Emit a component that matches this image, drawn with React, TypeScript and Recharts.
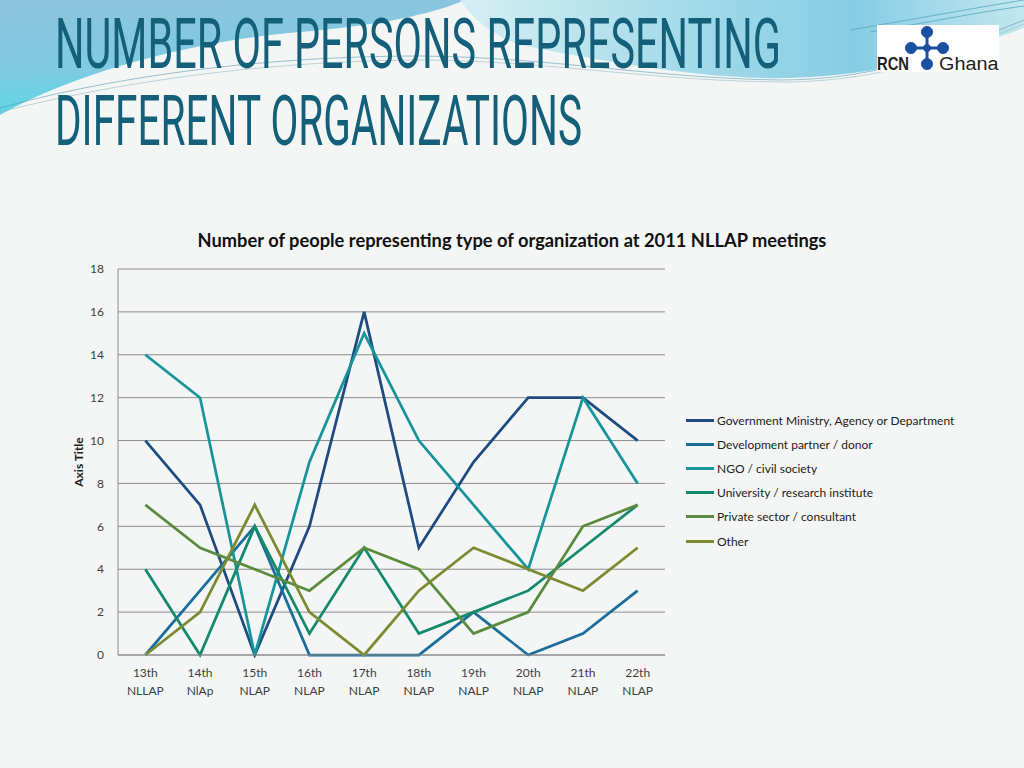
import { CartesianGrid, Line, LineChart, XAxis, YAxis } from "recharts";

const meetings = [
  "13th NLLAP",
  "14th NlAp",
  "15th NLAP",
  "16th NLAP",
  "17th NLAP",
  "18th NLAP",
  "19th NALP",
  "20th NLAP",
  "21th NLAP",
  "22th NLAP",
];
const government = [10, 7, 0, 6, 16, 5, 9, 12, 12, 10];
const developmentPartner = [0, 3, 6, 0, 0, 0, 2, 0, 1, 3];
const ngo = [14, 12, 0, 9, 15, 10, 7, 4, 12, 8];
const university = [4, 0, 6, 1, 5, 1, 2, 3, 5, 7];
const privateSector = [7, 5, 4, 3, 5, 4, 1, 2, 6, 7];
const other = [0, 2, 7, 2, 0, 3, 5, 4, 3, 5];
const yTicks = [0, 2, 4, 6, 8, 10, 12, 14, 16, 18];

const series = [
  { key: "government", name: "Government Ministry, Agency or Department", values: government, color: "#1E4C82" },
  { key: "development", name: "Development partner / donor", values: developmentPartner, color: "#1B6E9B" },
  { key: "ngo", name: "NGO / civil society", values: ngo, color: "#17959A" },
  { key: "university", name: "University / research institute", values: university, color: "#148A6C" },
  { key: "private", name: "Private sector / consultant", values: privateSector, color: "#5B8B3C" },
  { key: "other", name: "Other", values: other, color: "#7C8A30" },
];

const data = meetings.map((meeting, i) => {
  const row: Record<string, string | number> = { meeting };
  series.forEach((s) => {
    row[s.key] = s.values[i];
  });
  return row;
});

const FONT = "Lato, 'Open Sans', sans-serif";
const TITLE_COLOR = "#14607A";
const TITLE_FONT = "Roboto, 'DejaVu Sans', sans-serif";
const TITLE_SCALE = 0.56;

function MeetingTick({ x, y, payload }: { x?: number; y?: number; payload?: { value: string } }) {
  const [num, name] = String(payload?.value ?? "").split(" ");
  return (
    <text x={x} y={y} textAnchor="middle" fill="#404040" fontSize={12} fontFamily={FONT}>
      <tspan x={x} dy={14}>
        {num}
      </tspan>
      <tspan x={x} dy={18}>
        {name}
      </tspan>
    </text>
  );
}

function SlideBackground() {
  return (
    <svg width={1024} height={768} style={{ position: "absolute", left: 0, top: 0 }}>
      <defs>
        <linearGradient id="bgBlue" x1="0" y1="0" x2="0.15" y2="1">
          <stop offset="0" stopColor="#8DC3DC" />
          <stop offset="0.6" stopColor="#7FCBE2" />
          <stop offset="1" stopColor="#5DD6E5" />
        </linearGradient>
        <linearGradient id="bgCyan" x1="0" y1="0" x2="1" y2="0">
          <stop offset="0" stopColor="#D6EEF3" />
          <stop offset="0.35" stopColor="#A9DDEA" />
          <stop offset="0.7" stopColor="#86CDE4" />
          <stop offset="1" stopColor="#C2E7EF" />
        </linearGradient>
      </defs>
      <rect width={1024} height={768} fill="#F4F5F5" />
      <path d="M0,0 H465 C430,15 380,25 300,32 C200,40 80,70 0,115 Z" fill="url(#bgBlue)" />
      <path d="M460,0 H1024 V28 C950,55 880,75 790,78 C700,80 600,60 520,45 C490,35 470,15 460,0 Z" fill="url(#bgCyan)" />
      <path d="M0,108 C100,80 250,56 420,56 C550,57 650,78 780,80 C880,80 950,50 1024,20" fill="none" stroke="#4E97AA" strokeWidth={0.8} opacity={0.7} />
      <path d="M0,112 C110,84 260,60 430,60 C560,62 660,82 790,82 C890,80 955,52 1024,24" fill="none" stroke="#8FB7C2" strokeWidth={0.8} opacity={0.7} />
      <path d="M850,30 C920,18 975,8 1024,0" fill="none" stroke="#5AA6BC" strokeWidth={0.8} />
      <path d="M870,32 C930,22 980,12 1024,6" fill="none" stroke="#5AA6BC" strokeWidth={0.8} />
      <g transform={`translate(55,68) scale(${TITLE_SCALE},1)`}>
        <text x={0} y={0} fontFamily={TITLE_FONT} fontSize={70} fontWeight={400} fill={TITLE_COLOR} textLength={726 / TITLE_SCALE} lengthAdjust="spacingAndGlyphs">
          NUMBER OF PERSONS REPRESENTING
        </text>
      </g>
      <g transform={`translate(55,145) scale(${TITLE_SCALE},1)`}>
        <text x={0} y={0} fontFamily={TITLE_FONT} fontSize={70} fontWeight={400} fill={TITLE_COLOR} textLength={527 / TITLE_SCALE} lengthAdjust="spacingAndGlyphs">
          DIFFERENT ORGANIZATIONS
        </text>
      </g>
      <rect x={877} y={25} width={122} height={47} fill="#FFFFFF" />
      <g fill="#1B4FA0" stroke="#1B4FA0">
        <line x1={927} y1={32} x2={927} y2={64} strokeWidth={3} />
        <line x1={911} y1={48} x2={943} y2={48} strokeWidth={3} />
        <circle cx={927} cy={32} r={5.5} />
        <circle cx={911} cy={48} r={5.5} />
        <circle cx={943} cy={48} r={5.5} />
        <circle cx={927} cy={64} r={5.5} />
        <circle cx={927} cy={48} r={3.5} />
      </g>
      <g transform="translate(877,70) scale(0.8,1)">
        <text x={0} y={0} fontFamily="'Liberation Sans', Arial, sans-serif" fontSize={19} fontWeight={700} fill="#222" textLength={40} lengthAdjust="spacingAndGlyphs">
          RCN
        </text>
      </g>
      <g transform="translate(939,70) scale(0.85,1)">
        <text x={0} y={0} fontFamily="'Liberation Sans', Arial, sans-serif" fontSize={19} fill="#222" textLength={70} lengthAdjust="spacingAndGlyphs">
          Ghana
        </text>
      </g>
    </svg>
  );
}

export default function App() {
  return (
    <div style={{ position: "absolute", left: 0, top: 0, width: 1024, height: 768, overflow: "hidden", fontFamily: FONT }}>
      <SlideBackground />
      <div
        style={{
          position: "absolute",
          left: 0,
          top: 229,
          width: 1024,
          textAlign: "center",
          fontSize: 18.3,
          fontWeight: 700,
          lineHeight: "22px",
          color: "#111",
        }}
      >
        Number of people representing type of organization at 2011 NLLAP meetings
      </div>
      <div
        style={{
          position: "absolute",
          left: 78,
          top: 462,
          transform: "translate(-50%, -50%) rotate(-90deg)",
          fontSize: 12,
          fontWeight: 700,
          whiteSpace: "nowrap",
          color: "#222",
        }}
      >
        Axis Title
      </div>
      <div style={{ position: "absolute", left: 0, top: 0 }}>
        <LineChart width={1024} height={768} data={data} margin={{ top: 269, right: 359, bottom: 63, left: 78 }}>
          <CartesianGrid horizontal vertical={false} stroke="#8C8C8C" strokeWidth={1} />
          <XAxis
            dataKey="meeting"
            scale="band"
            height={50}
            axisLine={{ stroke: "#8C8C8C" }}
            tickLine={false}
            tickMargin={2}
            interval={0}
            tick={<MeetingTick />}
          />
          <YAxis
            width={40}
            domain={[0, 18]}
            ticks={yTicks}
            interval={0}
            axisLine={{ stroke: "#8C8C8C" }}
            tickLine={false}
            tickMargin={8}
            tick={{ fill: "#404040", fontSize: 12, fontFamily: FONT }}
          />
          {series.map((s) => (
            <Line
              key={s.key}
              type="linear"
              dataKey={s.key}
              name={s.name}
              stroke={s.color}
              strokeWidth={2.75}
              dot={false}
              activeDot={false}
              isAnimationActive={false}
            />
          ))}
        </LineChart>
      </div>
      <div style={{ position: "absolute", left: 686, top: 408 }}>
        {series.map((s) => (
          <div key={s.key} style={{ display: "flex", alignItems: "center", height: 24.2 }}>
            <span style={{ display: "inline-block", width: 28, height: 3, background: s.color, marginRight: 3 }} />
            <span style={{ fontSize: 12, color: "#222", whiteSpace: "nowrap" }}>{s.name}</span>
          </div>
        ))}
      </div>
    </div>
  );
}
